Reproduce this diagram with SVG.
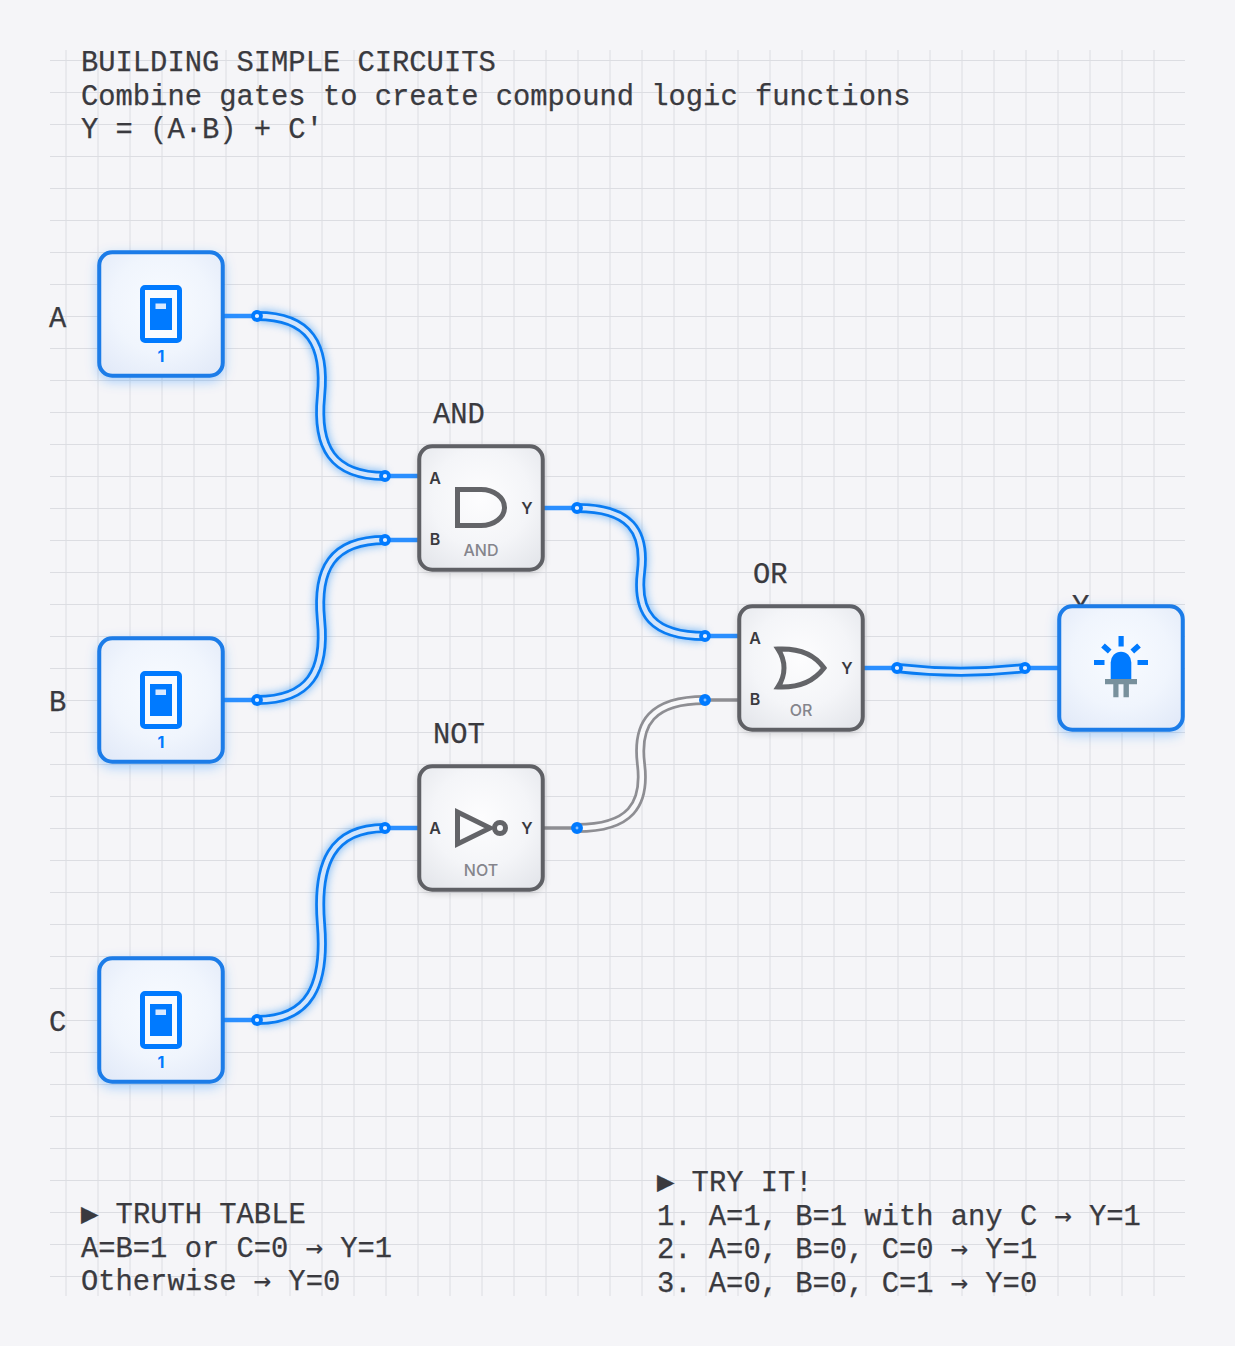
<svg xmlns="http://www.w3.org/2000/svg" width="1235" height="1346" viewBox="0 0 1235 1346">
<style>
.t{font-family:"Liberation Mono","DejaVu Sans Mono",monospace;font-size:28.8px;fill:#3a3a3f;stroke:#3a3a3f;stroke-width:.25}
.a{font-family:"DejaVu Sans Mono",monospace;font-size:28.7px}
.p{font-family:Inter,"Liberation Sans",sans-serif;font-size:16px;font-weight:600;fill:#3a3a3f;text-anchor:middle}
.n{font-family:Inter,"Liberation Sans",sans-serif;font-size:16px;font-weight:500;fill:#85858c;text-anchor:middle}
.v{font-family:Inter,"Liberation Sans",sans-serif;font-size:16px;font-weight:700;fill:#007aff;text-anchor:middle}
.on{fill:url(#fb);stroke:#1a7ce8;stroke-width:4;filter:url(#gb)}
.off{fill:url(#fg);stroke:#5f6065;stroke-width:4;filter:url(#gg)}
.ic{fill:none;stroke:#636468;stroke-width:5}
.wo{fill:none;stroke:#0a7cf2;stroke-width:10}
.wi{fill:none;stroke:#d3e5fb;stroke-width:4.500}
.go{fill:none;stroke:#8e8e93;stroke-width:10}
.gi{fill:none;stroke:#f8f8fa;stroke-width:4.500}
.s{stroke:#2b8fff;stroke-width:4.500}
.sg{stroke:#8e8e93;stroke-width:3.500}
.d{fill:#e4efff;stroke:#007aff;stroke-width:3.800}
.df{fill:#8cc1ff;stroke:#007aff;stroke-width:4.500}
.b{fill:#007aff}
</style>
<defs>
<pattern id="grid" x="50" y="60" width="32" height="32" patternUnits="userSpaceOnUse">
<path d="M16 0V32M0 .5H32" fill="none" stroke="#dcdde2" stroke-width="1"/>
</pattern>
<radialGradient id="fb" cx=".5" cy=".42" r=".72"><stop offset="0" stop-color="#f8fbff"/><stop offset=".55" stop-color="#f0f5fd"/><stop offset="1" stop-color="#e1e9f8"/></radialGradient>
<radialGradient id="fg" cx=".5" cy=".42" r=".72"><stop offset="0" stop-color="#fdfdfe"/><stop offset=".55" stop-color="#f4f5f8"/><stop offset="1" stop-color="#e3e5ea"/></radialGradient>
<filter id="gb" x="-30%" y="-30%" width="160%" height="160%"><feDropShadow dx="0" dy="4" stdDeviation="6" flood-color="#007aff" flood-opacity=".3"/></filter>
<filter id="gg" x="-30%" y="-30%" width="160%" height="160%"><feDropShadow dx="0" dy="2" stdDeviation="3" flood-color="#000" flood-opacity=".15"/></filter>
<filter id="gw" x="-30%" y="-30%" width="160%" height="160%"><feGaussianBlur stdDeviation="5"/></filter>
<clipPath id="area"><rect x="50" y="50" width="1135" height="1246"/></clipPath>
<g id="sw">
<rect x="44.500" y="36.500" width="37" height="53" rx="2.500" fill="#f8fbff" stroke="#007aff" stroke-width="5"/>
<rect x="52" y="47" width="22" height="32" fill="#007aff"/>
<rect x="57.500" y="52.500" width="10.500" height="5.500" fill="#d9e9ff"/>
</g>
</defs>
<rect width="1235" height="1346" fill="#f5f5f8"/>
<rect x="50" y="50" width="1135" height="1246" fill="url(#grid)"/>
<g id="title">
<text class="t" x="81" y="71">BUILDING SIMPLE CIRCUITS</text>
<text class="t" x="81" y="105">Combine gates to create compound logic functions</text>
<text class="t" x="81" y="138">Y = (A·B) + C'</text>
</g>
<g id="labels">
<text class="t" x="49" y="327">A</text>
<text class="t" x="49" y="711">B</text>
<text class="t" x="49" y="1031">C</text>
<text class="t" x="433" y="423">AND</text>
<text class="t" x="753" y="583">OR</text>
<text class="t" x="433" y="743">NOT</text>
<text class="t" x="1072" y="615">Y</text>
</g>
<g clip-path="url(#area)">
<g id="connectors">
<g filter="url(#gw)" opacity=".55">
<path class="wo" d="M257 316C310 316 326 345 321 396C316 447 332 476 385 476"/>
<path class="wo" d="M257 700C310 700 326 671 321 620C316 569 332 540 385 540"/>
<path class="wo" d="M257 1020C310 1020 326 985 321 924C316 863 332 828 385 828"/>
<path class="wo" d="M577 508C630 508 646 531 641 572C636 613 652 636 705 636"/>
<path class="wo" d="M897 668C940 673 982 673 1025 668"/>
</g>
<path class="s" d="M224 316H257M385 476H418M224 700H257M385 540H418M224 1020H257M385 828H418M544 508H577M705 636H738M864 668H897M1025 668H1058"/>
<path class="sg" d="M544 828H577M705 700H738"/>
<path class="go" d="M577 828C630 828 646 805 641 764C636 723 652 700 705 700"/>
<path class="gi" d="M577 828C630 828 646 805 641 764C636 723 652 700 705 700"/>
<path class="wo" d="M257 316C310 316 326 345 321 396C316 447 332 476 385 476"/>
<path class="wi" d="M257 316C310 316 326 345 321 396C316 447 332 476 385 476"/>
<path class="wo" d="M257 700C310 700 326 671 321 620C316 569 332 540 385 540"/>
<path class="wi" d="M257 700C310 700 326 671 321 620C316 569 332 540 385 540"/>
<path class="wo" d="M257 1020C310 1020 326 985 321 924C316 863 332 828 385 828"/>
<path class="wi" d="M257 1020C310 1020 326 985 321 924C316 863 332 828 385 828"/>
<path class="wo" d="M577 508C630 508 646 531 641 572C636 613 652 636 705 636"/>
<path class="wi" d="M577 508C630 508 646 531 641 572C636 613 652 636 705 636"/>
<path class="wo" d="M897 668C940 673 982 673 1025 668"/>
<path class="wi" d="M897 668C940 673 982 673 1025 668"/>
<circle class="d" cx="257" cy="316" r="4"/><circle class="d" cx="385" cy="476" r="4"/>
<circle class="d" cx="257" cy="700" r="4"/><circle class="d" cx="385" cy="540" r="4"/>
<circle class="d" cx="257" cy="1020" r="4"/><circle class="d" cx="385" cy="828" r="4"/>
<circle class="d" cx="577" cy="508" r="4"/><circle class="d" cx="705" cy="636" r="4"/>
<circle class="d" cx="897" cy="668" r="4"/><circle class="d" cx="1025" cy="668" r="4"/>
<circle class="df" cx="577" cy="828" r="3.700"/><circle class="df" cx="705" cy="700" r="3.700"/>
</g>
<g id="switch-a">
<rect class="on" x="99.250" y="252.250" width="123.500" height="123.500" rx="13"/>
<use href="#sw" x="98" y="251"/>
<text class="v" x="161" y="361.500">1</text>
</g>
<g id="switch-b">
<rect class="on" x="99.250" y="638.250" width="123.500" height="123.500" rx="13"/>
<use href="#sw" x="98" y="637"/>
<text class="v" x="161" y="747.500">1</text>
</g>
<g id="switch-c">
<rect class="on" x="99.250" y="958.250" width="123.500" height="123.500" rx="13"/>
<use href="#sw" x="98" y="957"/>
<text class="v" x="161" y="1067.500">1</text>
</g>
<g id="gate-and">
<rect class="off" x="419.250" y="446.250" width="123.500" height="123.500" rx="13"/>
<path class="ic" d="M457.500 489.500H481A23.500 18 0 0 1 481 525.500H457.500Z"/>
<text class="p" x="435" y="484">A</text>
<text class="p" x="435" y="545">B</text>
<text class="p" x="527" y="514">Y</text>
<text class="n" x="481" y="555.500">AND</text>
</g>
<g id="gate-not">
<rect class="off" x="419.250" y="766.250" width="123.500" height="123.500" rx="13"/>
<path class="ic" d="M457.500 812V844L490 828Z"/>
<circle class="ic" cx="500" cy="828" r="5.500"/>
<text class="p" x="435" y="834">A</text>
<text class="p" x="527" y="834">Y</text>
<text class="n" x="481" y="875.500">NOT</text>
</g>
<g id="gate-or">
<rect class="off" x="739.250" y="606.250" width="123.500" height="123.500" rx="13"/>
<path class="ic" d="M778 649C800 648 815 655 824 668C815 680 800 688 778 687C786 675 786 661 778 649Z"/>
<text class="p" x="755" y="644">A</text>
<text class="p" x="755" y="705">B</text>
<text class="p" x="847" y="674">Y</text>
<text class="n" x="801" y="715.500">OR</text>
</g>
<g id="led-y">
<rect class="on" x="1059.250" y="606.250" width="123.500" height="123.500" rx="13"/>
<path class="b" d="M1110.700 679V662.500A10.300 10.800 0 0 1 1131.300 662.500V679Z"/>
<path class="b" d="M1118.500 636H1123.700V646.500H1118.500ZM1094 660H1104.500V665H1094ZM1137.500 660H1148V665H1137.500Z"/>
<path d="M1103 645.500L1109.700 651.500M1139 645.500L1132.300 651.500" stroke="#007aff" stroke-width="5.500" fill="none"/>
<path fill="#78909c" d="M1105 679H1137V684.200H1105ZM1113.300 684H1118.500V697.300H1113.300ZM1123.500 684H1128.900V697.300H1123.500Z"/>
</g>
</g>
<g id="notes">
<text class="t" x="81" y="1223">▶ TRUTH TABLE</text>
<text class="t" x="81" y="1257">A=B=1 or C=0 <tspan class="a">→</tspan> Y=1</text>
<text class="t" x="81" y="1290">Otherwise <tspan class="a">→</tspan> Y=0</text>
<text class="t" x="657" y="1191">▶ TRY IT!</text>
<text class="t" x="657" y="1225">1. A=1, B=1 with any C <tspan class="a">→</tspan> Y=1</text>
<text class="t" x="657" y="1258">2. A=0, B=0, C=0 <tspan class="a">→</tspan> Y=1</text>
<text class="t" x="657" y="1292">3. A=0, B=0, C=1 <tspan class="a">→</tspan> Y=0</text>
</g>
</svg>
